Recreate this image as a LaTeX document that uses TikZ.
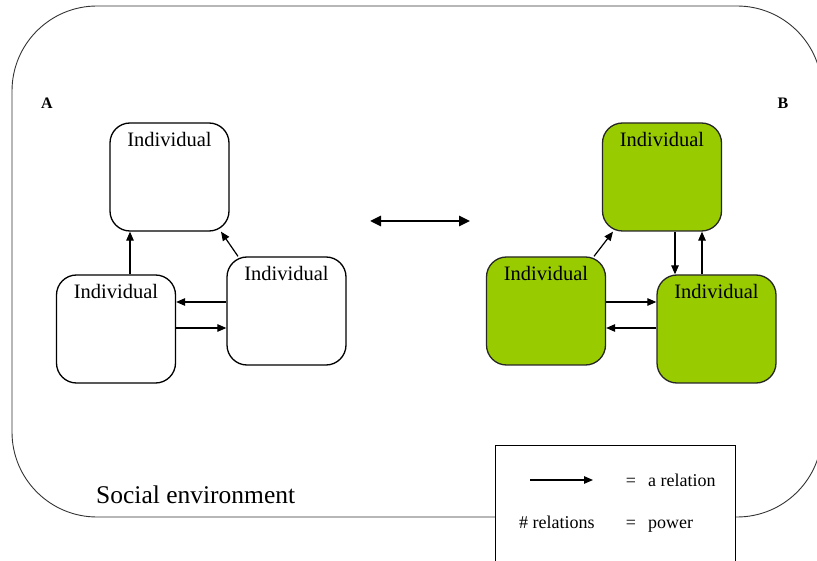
\documentclass[tikz,border=0pt]{standalone}
\usepackage{fontspec}
\setmainfont{Liberation Serif}
\newfontfamily\serifx{Liberation Serif}
\usetikzlibrary{arrows.meta}
\definecolor{leaf}{HTML}{99CC00}
\tikzset{
  indiv/.style={draw, line width=1.3pt, rounded corners=20pt, minimum width=119pt, minimum height=108pt, inner sep=0pt,
     label={[anchor=north, yshift=-6pt, font=\serifx\fontsize{20.5}{22}\selectfont]north:Individual}},
  greenbox/.style={indiv, fill=leaf, draw=black!85},
  rel/.style={line width=1.2pt, -{Triangle[length=9pt,width=7.5pt]}},
  legtext/.style={font=\serifx\fontsize{18}{20}\selectfont, inner sep=0pt}
}
\begin{document}
\begin{tikzpicture}[x=1pt,y=-1pt]
\useasboundingbox (0,0) rectangle (817,561);
\clip (0,0) rectangle (817,561);
% outer environment
\draw[line width=0.9pt, black!80, rounded corners=85pt] (12,6) rectangle (822,517);
\node[anchor=base west, font=\serifx\fontsize{25.5}{28}\selectfont, inner sep=0pt] (env) at (96,503) {Social environment};
% labels
\node[font=\serifx\bfseries\fontsize{16}{18}\selectfont] (A) at (47,103) {A};
\node[font=\serifx\bfseries\fontsize{16}{18}\selectfont] (B) at (783,103) {B};
% group A
\node[indiv] (LT) at (169.5,177) {};
\node[indiv] (LBL) at (116,329) {};
\node[indiv] (LR) at (286.5,311) {};
\draw[rel] ([xshift=14pt]LBL.north) -- ([xshift=-39.5pt]LT.south);
\draw[rel] ([xshift=-48.5pt]LR.north) -- ([xshift=51.5pt]LT.south);
\draw[rel] ([yshift=9pt]LR.west) -- ([yshift=27pt]LBL.east);
\draw[rel] ([yshift=1pt]LBL.east) -- ([yshift=-17pt]LR.west);
% group B
\node[greenbox] (RT) at (662,177) {};
\node[greenbox] (RL) at (546,311) {};
\node[greenbox] (RBR) at (716.5,329) {};
\draw[rel] ([xshift=48pt]RL.north) -- ([xshift=-49pt]RT.south);
\draw[rel] ([xshift=13pt]RT.south) -- ([xshift=-41.5pt]RBR.north);
\draw[rel] ([xshift=-14.5pt]RBR.north) -- ([xshift=40pt]RT.south);
\draw[rel] ([yshift=9pt]RL.east) -- ([yshift=27pt]RBR.west);
\draw[rel] ([yshift=1pt]RBR.west) -- ([yshift=-17pt]RL.east);
% double arrow
\coordinate (dl) at (370,221);
\coordinate (dr) at (470,221);
\draw[line width=2.6pt, {Triangle[length=11pt,width=10pt]}-{Triangle[length=11pt,width=10pt]}] (dl) -- (dr);
% legend
\draw[line width=1pt, fill=white] (495,445) rectangle (735,580);
\coordinate (la) at (530,480);
\coordinate (lb) at (593,480);
\draw[rel] (la) -- (lb);
\node[legtext, anchor=base] (eq1) at (631,486) {=};
\node[legtext, anchor=base west] (t1) at (648,486) {a relation};
\node[legtext, anchor=base west] (t2) at (519,528) {\# relations};
\node[legtext, anchor=base] (eq2) at (631,528) {=};
\node[legtext, anchor=base west] (t3) at (648,528) {power};
\end{tikzpicture}
\end{document}
